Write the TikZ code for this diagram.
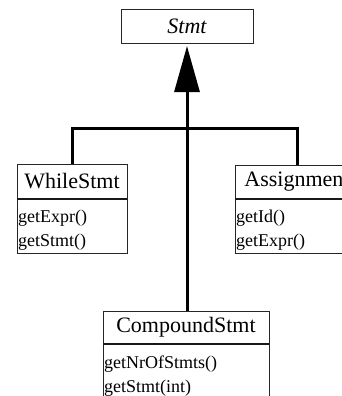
\documentclass[tikz,border=0pt]{standalone}
\usepackage{fontspec}
\setmainfont{Liberation Serif}
\usetikzlibrary{arrows.meta}
\tikzset{
  classbox/.style={draw=black!85, line width=0.9pt, fill=white, inner sep=0pt, outer sep=0pt},
  namebox/.style={classbox, font=\fontsize{22}{22}\selectfont},
  meth/.style={anchor=base west, inner sep=0pt, font=\fontsize{18}{18}\selectfont},
  sepline/.style={draw=black!90, line width=1.8pt},
  conn/.style={draw=black, line width=3pt},
  gen/.style={conn, -{Triangle[width=25pt,length=46pt]}},
}
\begin{document}
\begin{tikzpicture}[x=1pt,y=-1pt]
\useasboundingbox (0,0) rectangle (342,396);
\clip (0,0) rectangle (342,396);
\fill[white] (0,0) rectangle (342,396);
% Stmt
\node[namebox, minimum width=132pt, minimum height=34pt, font=\fontsize{22}{22}\selectfont\itshape] (stmt) at (187,26) {Stmt};
% WhileStmt
\node[classbox, minimum width=110pt, minimum height=54pt] (whilem) at (72,226) {};
\node[namebox, minimum width=110pt, minimum height=35pt] (while) at (72,181.5) {WhileStmt};
\draw[sepline] (whilem.north west) -- (whilem.north east);
\node[meth] (w1) at (18,222) {getExpr()};
\node[meth] (w2) at (18,246) {getStmt()};
% Assignment
\node[classbox, minimum width=124pt, minimum height=54pt] (assignm) at (297,226) {};
\node[namebox, minimum width=124pt, minimum height=34pt] (assign) at (297,182) {Assignment};
\draw[sepline] (assignm.north west) -- (assignm.north east);
\node[meth] (a1) at (236,222) {getId()};
\node[meth] (a2) at (236,246) {getExpr()};
% CompoundStmt
\node[classbox, minimum width=166pt, minimum height=60pt] (compm) at (186,374) {};
\node[namebox, minimum width=166pt, minimum height=33pt] (comp) at (186,327.5) {CompoundStmt};
\draw[sepline] (compm.north west) -- (compm.north east);
\node[meth] (c1) at (104,368) {getNrOfStmts()};
\node[meth] (c2) at (104,392) {getStmt(int)};
% connectors
\coordinate (j) at (187,128);
\coordinate (cj) at (187,311);
\draw[conn, line join=miter] (while.north) |- (j) -| (assign.north);
\draw[gen, shorten >=3pt] (cj) -- (j) -- (stmt.south);
\end{tikzpicture}
\end{document}
